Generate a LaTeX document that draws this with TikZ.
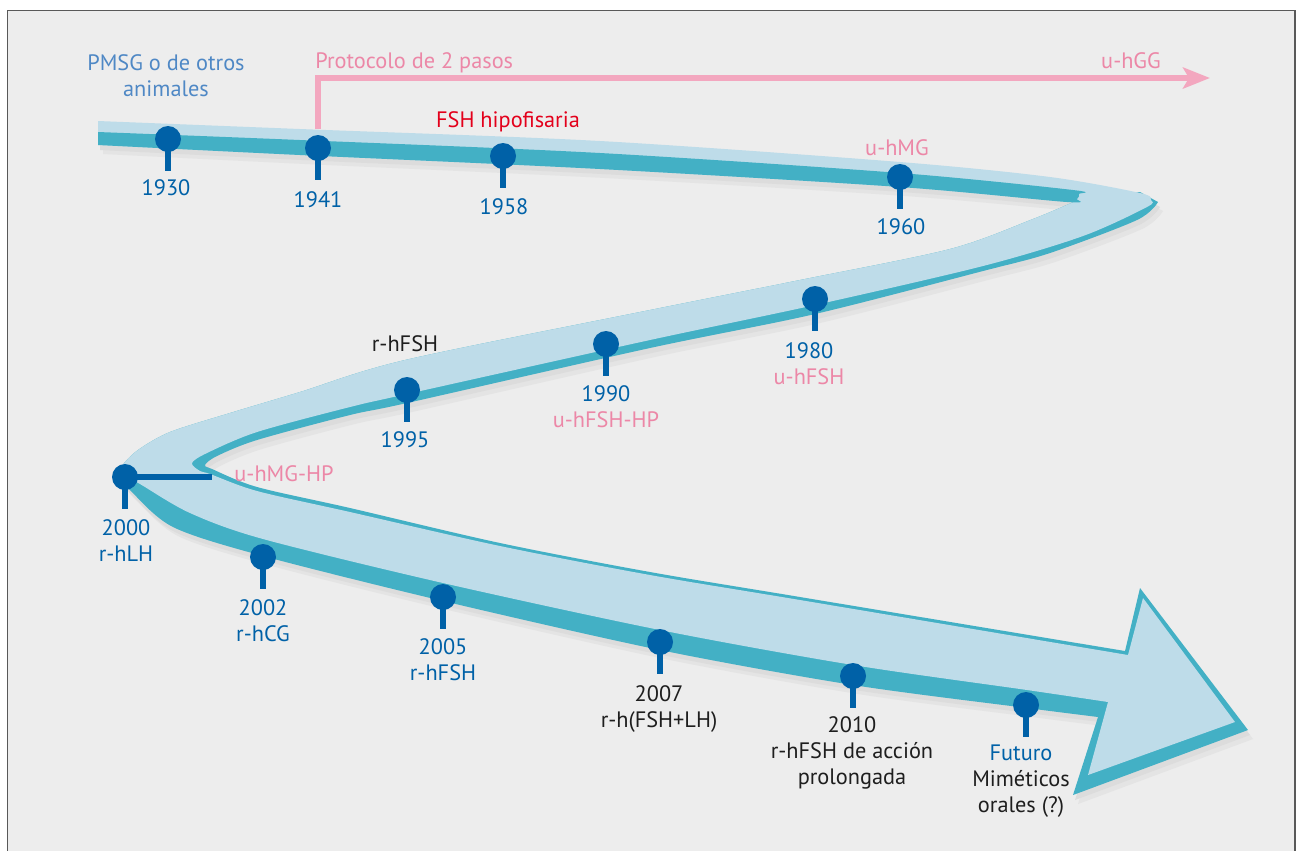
\documentclass[tikz,border=0pt]{standalone}
\usepackage{fontspec}
\setmainfont{PT Sans}
\usepackage{tikz}
\usetikzlibrary{calc,backgrounds,arrows.meta}
\definecolor{fondo}{HTML}{EDEDED}
\definecolor{sombra}{HTML}{DCDCDC}
\definecolor{sombraclara}{HTML}{E4E4E4}
\definecolor{claro}{HTML}{BEDCE9}
\definecolor{turquesa}{HTML}{43B0C5}
\definecolor{azul}{HTML}{0061A7}
\definecolor{azulclaro}{HTML}{4F88C5}
\definecolor{rosa}{HTML}{EC87A7}
\definecolor{rosalinea}{HTML}{F3A7BF}
\definecolor{rojo}{HTML}{E3001B}
\definecolor{negro}{HTML}{1E1E1E}
\newcommand{\tallo}{32}
\newcommand{\grosor}{3.8pt}
% silueta turquesa (tramos 2 y 3 + flecha)
\newcommand{\cintaT}{plot[smooth] coordinates {(1078,200) (1033,219) (950,249) (800,280) (650,310) (405,360) (300,392) (230,413) (170,432) (138,450) (122,466) (121,477) (130,490) (173,527) (263,556) (443,601) (660,650) (853,685) (1027,708) (1098,717)} -- (1073,795) -- (1248,730) -- (1140,588) -- (1125,651) -- plot[smooth] coordinates {(1125,651) (800,597) (650,572) (500,543) (350,508) (257,487) (212,469) (205,465) (217,456) (257,440) (350,415) (407,403) (650,348) (815,314) (983,271) (1050,253) (1137,220) (1158,202)} -- (1140,192) -- cycle}
% cara clara de toda la cinta
\newcommand{\cintaL}{plot[smooth] coordinates {(1078,200) (1033,219) (950,249) (800,280) (650,310) (405,360) (300,392) (230,413) (170,432) (138,450) (122,466) (124,475) (140,484) (190,513) (263,539) (443,583) (660,630) (853,665) (1027,690) (1108,702)} -- (1088,775) -- (1235,722) -- (1143,598) -- (1128,655) -- plot[smooth] coordinates {(1128,655) (800,600) (650,575) (500,546) (350,512) (257,491) (210,474) (200,471) (192,463) (207,453) (257,432) (350,407) (407,394) (650,340) (815,305) (983,266) (1083,236) (1147,207) (1151,200) (1140,193) (1050,177) (900,162) (600,141) (300,129) (98,121)} -- (98,145) -- plot[smooth] coordinates {(98,145) (300,155) (600,169) (900,187) (1067,202)} -- cycle}

\begin{document}
\begin{tikzpicture}[x=0.02cm, y=-0.02cm,
  knob/.style={circle, fill=azul, inner sep=0pt, minimum size=0.52cm},
  stemline/.style={azul, line width=\grosor},
  lbl/.style={font=\fontsize{12.7}{14.8}\selectfont, align=center, inner sep=0pt, text depth=0pt, text=azul}]
\useasboundingbox (0,0) rectangle (1297,850);
\clip (0,0) rectangle (1297,850);
\fill[fondo] (7.5,10.5) rectangle (1295,900);
\draw[black!65, line width=0.7pt] (7.5,10.5) rectangle (1295,900);
%sombra
\fill[sombraclara, shift={(5,9)}] \cintaT;
\fill[sombraclara, shift={(5,9)}] \cintaL;
\fill[sombra, shift={(2,5)}] \cintaT;
\fill[sombra, shift={(2,5)}] \cintaL;
%cinta
\fill[turquesa] \cintaT;
\fill[claro] \cintaL;
\fill[turquesa] plot[smooth] coordinates {(98,132) (300,140) (600,153) (900,173) (1073,190) (1079,194) (1077,199) (1067,202) (900,187) (600,169) (300,155) (98,145)} -- cycle;
%protocolo de 2 pasos
\coordinate (c1941) at (318,129);
\coordinate (hggfin) at (1210,78);
\draw[rosalinea, line width=3.2pt, -{Stealth[length=0.54cm, width=0.42cm, inset=0.12cm]}] (c1941) |- (hggfin);
%hitos
\node[knob] (k1930) at (168,139) {};
\node[knob] (k1941) at (318,148) {};
\node[knob] (k1958) at (503,156) {};
\node[knob] (k1960) at (900,177) {};
\node[knob] (k1980) at (815,299) {};
\node[knob] (k1990) at (606,344) {};
\node[knob] (k1995) at (407,390) {};
\node[knob] (k2000) at (125,477) {};
\node[knob] (k2002) at (263,557) {};
\node[knob] (k2005) at (443,597) {};
\node[knob] (k2007) at (660,642) {};
\node[knob] (k2010) at (853,676) {};
\node[knob] (kfut) at (1026,705) {};
\coordinate (hp) at (212,477);
\draw[stemline] (k1930.center) -- ++(0,\tallo);
\draw[stemline] (k1941.center) -- ++(0,\tallo);
\draw[stemline] (k1958.center) -- ++(0,\tallo);
\draw[stemline] (k1960.center) -- ++(0,\tallo);
\draw[stemline] (k1980.center) -- ++(0,\tallo);
\draw[stemline] (k1990.center) -- ++(0,\tallo);
\draw[stemline] (k1995.center) -- ++(0,\tallo);
\draw[stemline] (k2000.center) -- ++(0,\tallo);
\draw[stemline] (k2000.center) -- (hp);
\draw[stemline] (k2002.center) -- ++(0,\tallo);
\draw[stemline] (k2005.center) -- ++(0,\tallo);
\draw[stemline] (k2007.center) -- ++(0,\tallo);
\draw[stemline] (k2010.center) -- ++(0,\tallo);
\draw[stemline] (kfut.center) -- ++(0,\tallo);
%textos
\node[lbl, text=azulclaro] (pmsg) at (166,76) {PMSG o de otros\\animales};
\node[lbl, text=rosa, anchor=west] (protocolo) at (315,61) {Protocolo de 2 pasos};
\node[lbl, text=rosa] (hgg) at (1131,61) {u-hGG};
\node[lbl, text=rojo] (fshhipo) at (508,120) {FSH hipofisaria};
\node[lbl, text=rosa] (hmg) at (897,148) {u-hMG};
\node[lbl, text=negro] (rfsh) at (405,344) {r-hFSH};
\node[lbl, text=rosa] (hmghp) at (284,474) {u-hMG-HP};
\node[lbl] (t1930) at (166,188) {1930};
\node[lbl] (t1941) at (318,200) {1941};
\node[lbl] (t1958) at (504,207) {1958};
\node[lbl] (t1960) at (901,227) {1960};
\node[lbl] (t1980) at (809,364) {1980\\\textcolor{rosa}{u-hFSH}};
\node[lbl] (t1990) at (606,407) {1990\\\textcolor{rosa}{u-hFSH-HP}};
\node[lbl] (t1995) at (405,440) {1995};
\node[lbl] (t2000) at (126,541) {2000\\r-hLH};
\node[lbl] (t2002) at (263,621) {2002\\r-hCG};
\node[lbl] (t2005) at (443,660) {2005\\r-hFSH};
\node[lbl, text=negro] (t2007) at (659,707) {2007\\r-h(FSH+LH)};
\node[lbl, text=negro] (t2010) at (852,751) {2010\\r-hFSH de acción\\prolongada};
\node[lbl] (tfut) at (1021,779) {Futuro\\\textcolor{negro}{Miméticos}\\\textcolor{negro}{orales (?)}};
\end{tikzpicture}
\end{document}
